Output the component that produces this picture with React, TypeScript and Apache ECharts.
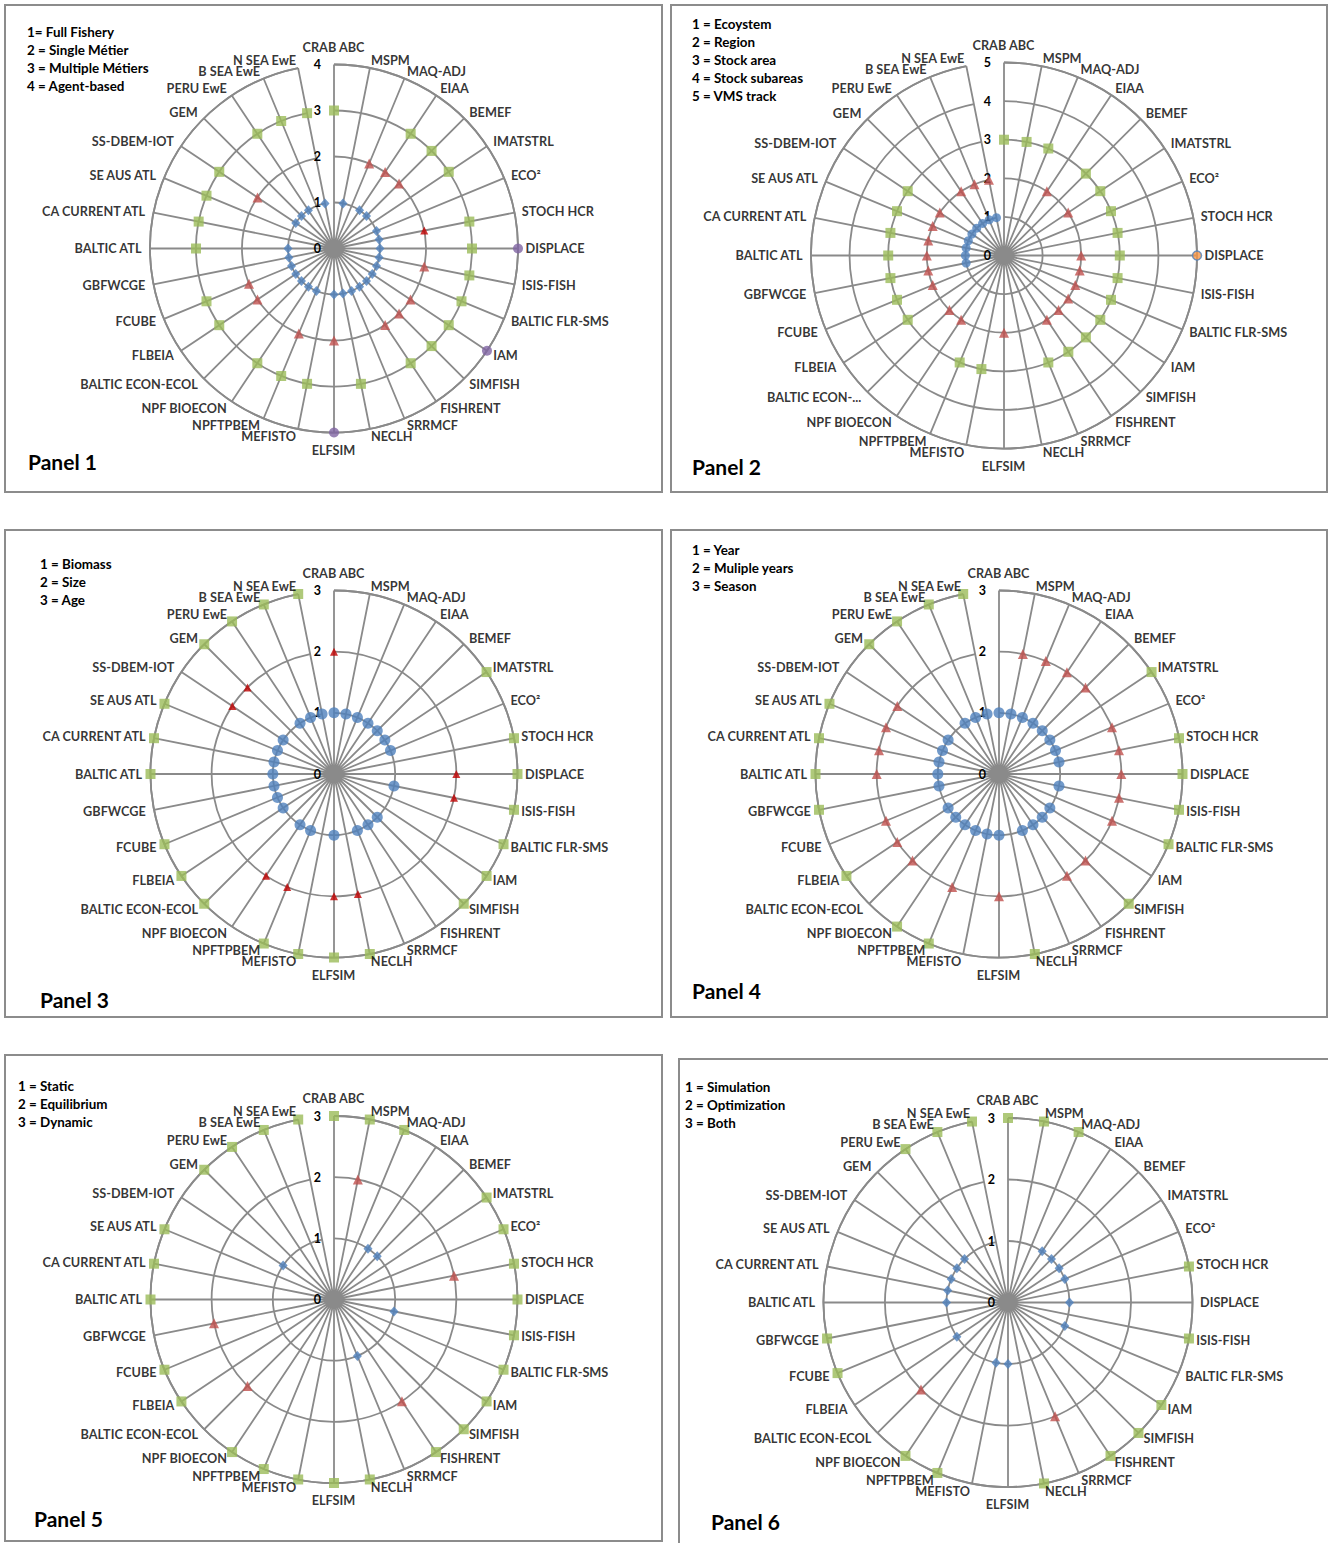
import React, { useEffect, useRef } from "react";
import * as echarts from "echarts";

// ---------- DATA ----------
const CATEGORIES = [
  "CRAB ABC", "MSPM", "MAQ-ADJ", "EIAA", "BEMEF", "IMATSTRL", "ECO²", "STOCH HCR",
  "DISPLACE", "ISIS-FISH", "BALTIC FLR-SMS", "IAM", "SIMFISH", "FISHRENT", "SRRMCF", "NECLH",
  "ELFSIM", "MEFISTO", "NPFTPBEM", "NPF BIOECON", "BALTIC ECON-ECOL", "FLBEIA", "FCUBE", "GBFWCGE",
  "BALTIC ATL", "CA CURRENT ATL", "SE AUS ATL", "SS-DBEM-IOT", "GEM", "PERU EwE", "B SEA EwE", "N SEA EwE",
];
const P2_LABEL_OVERRIDES: Record<string, string> = { "BALTIC ECON-ECOL": "BALTIC ECON-..." };

// Panel 1: fishery scope (1..4)
const P1_FULL_FISHERY = ["MSPM", "EIAA", "BEMEF", "ECO²", "STOCH HCR", "DISPLACE", "ISIS-FISH", "BALTIC FLR-SMS", "IAM", "SIMFISH", "FISHRENT", "SRRMCF", "NECLH", "ELFSIM", "NPFTPBEM", "NPF BIOECON", "BALTIC ECON-ECOL", "FLBEIA", "FCUBE", "GBFWCGE", "BALTIC ATL", "SS-DBEM-IOT", "GEM", "PERU EwE", "N SEA EwE"];
const P1_SINGLE_METIER = ["MAQ-ADJ", "EIAA", "BEMEF", "ISIS-FISH", "IAM", "SIMFISH", "FISHRENT", "ELFSIM", "NPFTPBEM", "FLBEIA", "FCUBE", "SS-DBEM-IOT"];
const P1_SINGLE_METIER_B = ["STOCH HCR"];
const P1_MULTIPLE_METIERS = ["CRAB ABC", "EIAA", "BEMEF", "IMATSTRL", "STOCH HCR", "DISPLACE", "ISIS-FISH", "BALTIC FLR-SMS", "IAM", "SIMFISH", "FISHRENT", "NECLH", "MEFISTO", "NPFTPBEM", "NPF BIOECON", "FLBEIA", "FCUBE", "BALTIC ATL", "CA CURRENT ATL", "SE AUS ATL", "SS-DBEM-IOT", "PERU EwE", "B SEA EwE", "N SEA EwE"];
const P1_AGENT_BASED = ["DISPLACE", "IAM", "ELFSIM"];
const P1_LEGEND = ["1= Full Fishery", "2 = Single Métier", "3 = Multiple Métiers", "4 = Agent-based"];

// Panel 2: spatial scale (1..5)
const P2_ECOSYSTEM = ["GBFWCGE", "BALTIC ATL", "CA CURRENT ATL", "SE AUS ATL", "SS-DBEM-IOT", "GEM", "PERU EwE", "B SEA EwE", "N SEA EwE"];
const P2_REGION = ["EIAA", "IMATSTRL", "DISPLACE", "ISIS-FISH", "BALTIC FLR-SMS", "IAM", "SIMFISH", "FISHRENT", "ELFSIM", "NPF BIOECON", "BALTIC ECON-ECOL", "FCUBE", "GBFWCGE", "BALTIC ATL", "CA CURRENT ATL", "SE AUS ATL", "SS-DBEM-IOT", "PERU EwE", "B SEA EwE", "N SEA EwE"];
const P2_STOCK_AREA = ["CRAB ABC", "MSPM", "MAQ-ADJ", "BEMEF", "IMATSTRL", "ECO²", "STOCH HCR", "DISPLACE", "ISIS-FISH", "BALTIC FLR-SMS", "IAM", "SIMFISH", "FISHRENT", "SRRMCF", "MEFISTO", "NPFTPBEM", "FLBEIA", "FCUBE", "GBFWCGE", "BALTIC ATL", "CA CURRENT ATL", "SE AUS ATL", "SS-DBEM-IOT"];
const P2_VMS_TRACK = ["DISPLACE"];
const P2_LEGEND = ["1 = Ecoystem", "2 = Region", "3 = Stock area", "4 = Stock subareas", "5 = VMS track"];

// Panel 3: stock structure (1..3)
const P3_BIOMASS = ["CRAB ABC", "MSPM", "MAQ-ADJ", "EIAA", "BEMEF", "IMATSTRL", "ECO²", "ISIS-FISH", "SIMFISH", "FISHRENT", "SRRMCF", "ELFSIM", "NPFTPBEM", "NPF BIOECON", "FLBEIA", "FCUBE", "GBFWCGE", "BALTIC ATL", "CA CURRENT ATL", "SE AUS ATL", "SS-DBEM-IOT", "PERU EwE", "B SEA EwE", "N SEA EwE"];
const P3_SIZE = ["CRAB ABC", "DISPLACE", "ISIS-FISH", "NECLH", "ELFSIM", "NPFTPBEM", "NPF BIOECON", "SS-DBEM-IOT", "GEM"];
const P3_AGE = ["IMATSTRL", "STOCH HCR", "DISPLACE", "ISIS-FISH", "BALTIC FLR-SMS", "IAM", "SIMFISH", "NECLH", "ELFSIM", "MEFISTO", "NPFTPBEM", "BALTIC ECON-ECOL", "FLBEIA", "FCUBE", "BALTIC ATL", "CA CURRENT ATL", "SE AUS ATL", "GEM", "PERU EwE", "B SEA EwE", "N SEA EwE"];
const P3_LEGEND = ["1 = Biomass", "2 = Size", "3 = Age"];

// Panel 4: time step (1..3)
const P4_YEAR = ["CRAB ABC", "MSPM", "MAQ-ADJ", "EIAA", "BEMEF", "IMATSTRL", "ECO²", "STOCH HCR", "ISIS-FISH", "IAM", "SIMFISH", "FISHRENT", "SRRMCF", "ELFSIM", "MEFISTO", "NPFTPBEM", "NPF BIOECON", "BALTIC ECON-ECOL", "FLBEIA", "GBFWCGE", "BALTIC ATL", "CA CURRENT ATL", "SE AUS ATL", "SS-DBEM-IOT", "PERU EwE", "B SEA EwE", "N SEA EwE"];
const P4_MULTIPLE_YEARS = ["MSPM", "MAQ-ADJ", "EIAA", "BEMEF", "ECO²", "STOCH HCR", "DISPLACE", "ISIS-FISH", "BALTIC FLR-SMS", "SIMFISH", "FISHRENT", "ELFSIM", "NPFTPBEM", "BALTIC ECON-ECOL", "FLBEIA", "FCUBE", "BALTIC ATL", "CA CURRENT ATL", "SE AUS ATL", "SS-DBEM-IOT"];
const P4_SEASON = ["IMATSTRL", "STOCH HCR", "DISPLACE", "ISIS-FISH", "BALTIC FLR-SMS", "SIMFISH", "NECLH", "NPFTPBEM", "NPF BIOECON", "FLBEIA", "GBFWCGE", "BALTIC ATL", "CA CURRENT ATL", "SE AUS ATL", "GEM", "PERU EwE", "B SEA EwE", "N SEA EwE"];
const P4_LEGEND = ["1 = Year", "2 = Muliple years", "3 = Season"];

// Panel 5: dynamics (1..3)
const P5_STATIC = ["EIAA", "BEMEF", "ISIS-FISH", "SRRMCF", "SS-DBEM-IOT"];
const P5_EQUILIBRIUM = ["MSPM", "STOCH HCR", "FISHRENT", "BALTIC ECON-ECOL", "GBFWCGE"];
const P5_DYNAMIC = ["CRAB ABC", "MSPM", "MAQ-ADJ", "IMATSTRL", "ECO²", "STOCH HCR", "DISPLACE", "ISIS-FISH", "BALTIC FLR-SMS", "IAM", "SIMFISH", "FISHRENT", "NECLH", "ELFSIM", "MEFISTO", "NPFTPBEM", "NPF BIOECON", "FLBEIA", "FCUBE", "BALTIC ATL", "CA CURRENT ATL", "SE AUS ATL", "GEM", "PERU EwE", "B SEA EwE", "N SEA EwE"];
const P5_LEGEND = ["1 = Static", "2 = Equilibrium", "3 = Dynamic"];

// Panel 6: model purpose (1..3)
const P6_SIMULATION = ["EIAA", "BEMEF", "IMATSTRL", "ECO²", "DISPLACE", "BALTIC FLR-SMS", "ELFSIM", "MEFISTO", "FLBEIA", "BALTIC ATL", "CA CURRENT ATL", "SE AUS ATL", "SS-DBEM-IOT", "GEM"];
const P6_OPTIMIZATION = ["SRRMCF", "BALTIC ECON-ECOL"];
const P6_BOTH = ["CRAB ABC", "MSPM", "MAQ-ADJ", "STOCH HCR", "ISIS-FISH", "IAM", "SIMFISH", "FISHRENT", "NECLH", "NPFTPBEM", "NPF BIOECON", "FCUBE", "GBFWCGE", "PERU EwE", "B SEA EwE", "N SEA EwE"];
const P6_LEGEND = ["1 = Simulation", "2 = Optimization", "3 = Both"];

// ---------- STYLES ----------
const FONT = "Lato, 'Liberation Sans', sans-serif";
const GRID = "#8a8a8a";
const BLUE_DIAMOND = { symbol: "diamond", symbolSize: [9, 10], itemStyle: { color: "#4F81BD" } };
const BLUE_CIRCLE = { symbol: "circle", symbolSize: 11, itemStyle: { color: "#4F81BD" } };
const BLUE_CIRCLE_S = { symbol: "circle", symbolSize: 9, itemStyle: { color: "#4F81BD" } };
const RED_TRI = { symbol: "triangle", symbolSize: 10, itemStyle: { color: "#C0504D" } };
const RED_TRI_DARK = { symbol: "triangle", symbolSize: 8, itemStyle: { color: "#C00000" } };
const GREEN_SQ = { symbol: "rect", symbolSize: 10, itemStyle: { color: "#9BBB59" } };
const PURPLE_CIRCLE = { symbol: "circle", symbolSize: 10, itemStyle: { color: "#8064A2" } };
const ORANGE_CIRCLE = { symbol: "circle", symbolSize: 9, itemStyle: { color: "#F79646", borderColor: "#4F81BD", borderWidth: 1.5 } };

type Level = { value: number; names: string[]; style: any };
type Panel = {
  center: [number, number]; radius: number; max: number; levels: Level[];
  legend: string[]; legendX: number; legendY: number; title: string; titleX: number; titleY: number;
  box: [number, number, number, number]; labelOverrides?: Record<string, string>;
};

const PANELS: Panel[] = [
  {
    center: [334, 248.5], radius: 184, max: 4,
    levels: [
      { value: 1, names: P1_FULL_FISHERY, style: BLUE_DIAMOND },
      { value: 2, names: P1_SINGLE_METIER, style: RED_TRI },
      { value: 2, names: P1_SINGLE_METIER_B, style: RED_TRI_DARK },
      { value: 3, names: P1_MULTIPLE_METIERS, style: GREEN_SQ },
      { value: 4, names: P1_AGENT_BASED, style: PURPLE_CIRCLE },
    ],
    legend: P1_LEGEND, legendX: 27, legendY: 32, title: "Panel 1", titleX: 28, titleY: 461,
    box: [5, 5, 657, 487],
  },
  {
    center: [1004, 255.5], radius: 193, max: 5,
    levels: [
      { value: 1, names: P2_ECOSYSTEM, style: BLUE_CIRCLE_S },
      { value: 2, names: P2_REGION, style: RED_TRI },
      { value: 3, names: P2_STOCK_AREA, style: GREEN_SQ },
      { value: 5, names: P2_VMS_TRACK, style: ORANGE_CIRCLE },
    ],
    legend: P2_LEGEND, legendX: 692, legendY: 24, title: "Panel 2", titleX: 692, titleY: 466,
    box: [671, 5, 656, 487], labelOverrides: P2_LABEL_OVERRIDES,
  },
  {
    center: [334, 774], radius: 183.5, max: 3,
    levels: [
      { value: 1, names: P3_BIOMASS, style: BLUE_CIRCLE },
      { value: 2, names: P3_SIZE, style: RED_TRI_DARK },
      { value: 3, names: P3_AGE, style: GREEN_SQ },
    ],
    legend: P3_LEGEND, legendX: 40, legendY: 564, title: "Panel 3", titleX: 40, titleY: 999,
    box: [5, 530, 657, 487],
  },
  {
    center: [999, 774], radius: 183.5, max: 3,
    levels: [
      { value: 1, names: P4_YEAR, style: BLUE_CIRCLE },
      { value: 2, names: P4_MULTIPLE_YEARS, style: RED_TRI },
      { value: 3, names: P4_SEASON, style: GREEN_SQ },
    ],
    legend: P4_LEGEND, legendX: 692, legendY: 550, title: "Panel 4", titleX: 692, titleY: 990,
    box: [671, 530, 656, 487],
  },
  {
    center: [334, 1299.5], radius: 183.5, max: 3,
    levels: [
      { value: 1, names: P5_STATIC, style: BLUE_DIAMOND },
      { value: 2, names: P5_EQUILIBRIUM, style: RED_TRI },
      { value: 3, names: P5_DYNAMIC, style: GREEN_SQ },
    ],
    legend: P5_LEGEND, legendX: 18, legendY: 1086, title: "Panel 5", titleX: 34, titleY: 1518,
    box: [5, 1055, 657, 486],
  },
  {
    center: [1008, 1302.5], radius: 184.5, max: 3,
    levels: [
      { value: 1, names: P6_SIMULATION, style: BLUE_DIAMOND },
      { value: 2, names: P6_OPTIMIZATION, style: RED_TRI },
      { value: 3, names: P6_BOTH, style: GREEN_SQ },
    ],
    legend: P6_LEGEND, legendX: 685, legendY: 1087, title: "Panel 6", titleX: 711, titleY: 1521,
    box: [679, 1059, 680, 500],
  },
];

// Excel-like placement of category labels around the outer ring
const LABEL_GAP = 8;
const LABEL_GAP_VERTICAL = 11;
function categoryLabelItems(p: Panel) {
  const n = CATEGORIES.length;
  const overrides = p.labelOverrides || {};
  return CATEGORIES.map((name, k) => {
    const th = (k / n) * Math.PI * 2;
    const s = Math.sin(th);
    const c = Math.cos(th);
    let align = "center";
    let verticalAlign = "middle";
    let dx = 0;
    let dy = 0;
    if (Math.abs(s) < 1e-6) {
      verticalAlign = c > 0 ? "bottom" : "top";
      dy = c > 0 ? -LABEL_GAP_VERTICAL : LABEL_GAP_VERTICAL;
    } else {
      align = s > 0 ? "left" : "right";
      dx = LABEL_GAP * s;
      dy = -LABEL_GAP * c;
    }
    return {
      value: [p.max, k],
      name: overrides[name] || name,
      label: { position: [dx, dy], align, verticalAlign },
    };
  });
}

function buildOption() {
  const polar: any[] = [];
  const angleAxis: any[] = [];
  const radiusAxis: any[] = [];
  const series: any[] = [];
  const graphic: any[] = [];

  PANELS.forEach((p, i) => {
    polar.push({ center: p.center, radius: p.radius });
    angleAxis.push({
      polarIndex: i,
      type: "category",
      data: CATEGORIES,
      boundaryGap: false,
      startAngle: 90,
      clockwise: true,
      axisLine: { show: true, lineStyle: { color: GRID, width: 1.8 } },
      axisTick: { show: false, interval: 0 },
      splitLine: { show: true, interval: 0, lineStyle: { color: GRID, width: 1.8 } },
      axisLabel: { show: false, interval: 0 },
      z: 1,
    });
    radiusAxis.push({
      polarIndex: i,
      type: "value",
      min: 0,
      max: p.max,
      interval: 1,
      axisLine: { show: false },
      axisTick: { show: false },
      splitLine: { show: true, lineStyle: { color: GRID, width: 1.8 } },
      axisLabel: {
        margin: 13,
        color: "#000",
        fontFamily: FONT,
        fontWeight: "bold",
        fontSize: 12.5,
      },
      z: 3,
    });
    p.levels.forEach((lv) => {
      series.push({
        type: "scatter",
        coordinateSystem: "polar",
        polarIndex: i,
        symbol: lv.style.symbol,
        symbolSize: lv.style.symbolSize,
        itemStyle: lv.style.itemStyle,
        data: lv.names.map((n) => [lv.value, CATEGORIES.indexOf(n)]),
        z: 4,
        silent: true,
      });
    });
    // category names, anchored at the outer ring of each spoke
    series.push({
      type: "scatter",
      coordinateSystem: "polar",
      polarIndex: i,
      symbol: "circle",
      symbolSize: 1,
      itemStyle: { color: "rgba(0,0,0,0)" },
      silent: true,
      z: 5,
      label: {
        show: true,
        formatter: "{b}",
        color: "#000",
        fontFamily: FONT,
        fontWeight: "bold",
        fontSize: 12.7,
      },
      data: categoryLabelItems(p),
    });
    const [bx, by, bw, bh] = p.box;
    graphic.push({
      type: "rect",
      shape: { x: bx, y: by, width: bw, height: bh },
      style: { fill: "none", stroke: "#8c8c8c", lineWidth: 2 },
      z: 0,
      silent: true,
    });
    p.legend.forEach((t, k) => {
      graphic.push({
        type: "text",
        x: p.legendX,
        y: p.legendY + k * 18,
        style: {
          text: t,
          fill: "#000",
          font: `bold 13.4px ${FONT}`,
          textVerticalAlign: "middle",
          textAlign: "left",
        },
        z: 10,
      });
    });
    graphic.push({
      type: "text",
      x: p.titleX,
      y: p.titleY,
      style: {
        text: p.title,
        fill: "#000",
        font: `bold 21px ${FONT}`,
        textVerticalAlign: "middle",
        textAlign: "left",
      },
      z: 10,
    });
  });

  return {
    animation: false,
    backgroundColor: "#ffffff",
    polar,
    angleAxis,
    radiusAxis,
    series,
    graphic,
  };
}

export default function App() {
  const ref = useRef<HTMLDivElement>(null);
  useEffect(() => {
    if (!ref.current) return;
    const chart = echarts.init(ref.current, undefined, { renderer: "svg" });
    chart.setOption(buildOption() as any);
    return () => chart.dispose();
  }, []);
  return (
    <div
      ref={ref}
      style={{ position: "absolute", left: 0, top: 0, width: 1328, height: 1543, background: "#fff" }}
    />
  );
}
